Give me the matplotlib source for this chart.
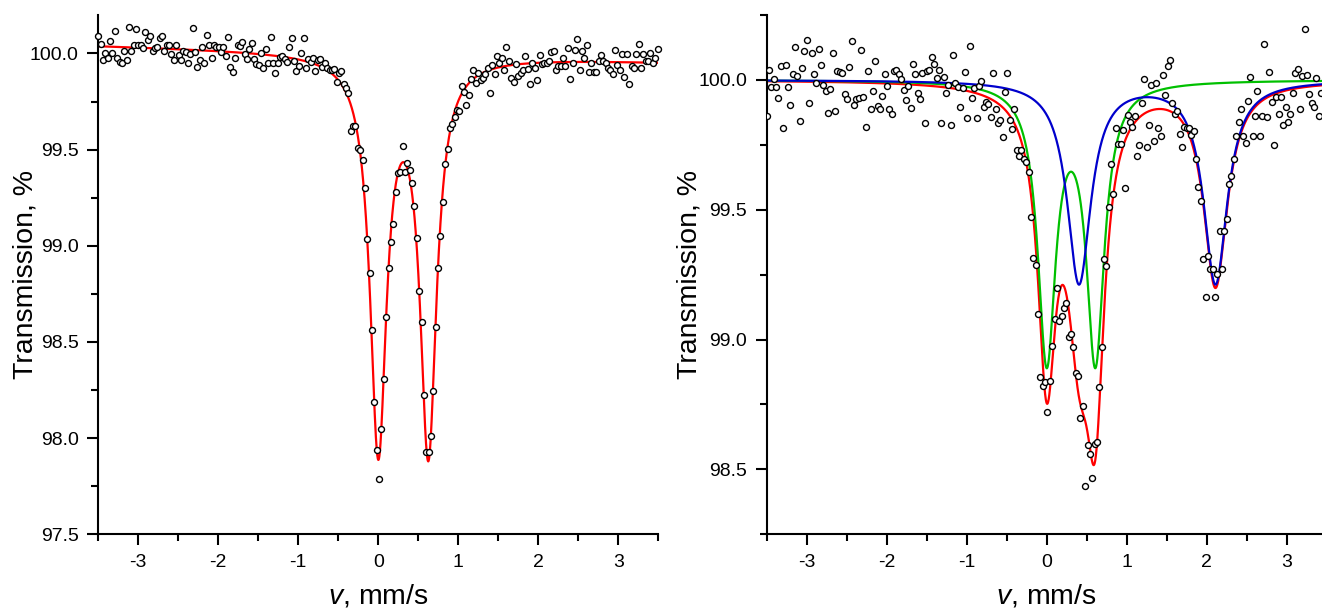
import numpy as np
import matplotlib
matplotlib.use("Agg")
import matplotlib.pyplot as plt
from matplotlib.ticker import MultipleLocator

plt.rcParams['font.family'] = ['Liberation Sans', 'DejaVu Sans']
plt.rcParams['mathtext.fontset'] = 'custom'
plt.rcParams['mathtext.it'] = 'Liberation Sans:italic'
plt.rcParams['mathtext.rm'] = 'Liberation Sans'

# ---------------- data: left spectrum (transmission, %) ----------------
v_range_left = [-3.50, 3.49]
trans_left = [
    100.090, 100.049, 99.965, 100.003, 99.977, 100.064, 100.005, 100.118, 99.977, 99.957,
    99.948, 100.014, 99.967, 100.137, 100.014, 100.045, 100.127, 100.045, 100.045, 100.026,
    100.111, 100.071, 100.090, 100.014, 100.026, 100.033, 100.082, 100.090, 100.014, 100.045,
    100.045, 99.995, 99.965, 100.045, 99.990, 99.965, 100.012, 100.007, 99.953, 99.995,
    100.130, 100.007, 99.932, 99.965, 100.035, 99.953, 100.095, 100.045, 99.974, 100.042,
    100.036, 100.035, 100.009, 100.033, 99.986, 100.088, 99.929, 99.905, 99.977, 100.045,
    100.038, 100.061, 99.995,
    99.972, 100.021, 100.057, 99.969, 99.946, 99.941, 100.000, 99.925, 100.023, 99.953,
    100.087, 99.953, 99.901, 99.953, 99.983, 99.986, 99.969, 99.955, 100.035, 100.082,
    99.962, 99.908, 99.936, 100.002, 100.078, 99.924, 99.972, 99.957, 99.974, 99.910,
    99.965, 99.971, 99.931, 99.948, 99.927, 99.913, 99.913, 99.917, 99.853, 99.896,
    99.910, 99.840, 99.820, 99.795, 99.596, 99.624, 99.622, 99.509, 99.497,
    99.445, 99.301, 99.037, 98.858, 98.564, 98.187, 97.940, 97.787, 98.049, 98.305,
    98.630, 98.885, 99.020, 99.112, 99.280, 99.381, 99.385, 99.519, 99.385, 99.428,
    99.394, 99.325, 99.207, 99.039, 98.765, 98.602, 98.226, 97.927, 97.927, 98.010,
    98.243, 98.576, 98.885, 99.049, 99.228, 99.426, 99.502, 99.610, 99.632,
    99.670, 99.705, 99.700,
    99.830, 99.799, 99.731, 99.783, 99.868, 99.913, 99.844, 99.899, 99.861, 99.870,
    99.891, 99.922, 99.797, 99.939, 99.891, 99.986, 99.948, 99.977, 99.912, 100.035,
    99.962, 99.870, 99.851, 99.944, 99.882, 99.899, 99.913, 99.986, 99.920, 99.842,
    99.948, 99.927, 99.861, 99.991, 99.944, 99.953, 99.953, 99.960, 100.007, 100.012,
    99.913, 99.936, 99.936, 99.979, 99.934, 100.031, 99.865, 99.948, 100.016, 100.075,
    99.913, 100.012, 99.974, 100.045, 99.906, 99.953, 99.906, 99.905, 99.960, 99.993,
    99.960, 99.948, 99.927, 99.913, 99.892, 100.016, 99.939, 99.913, 99.998, 99.879,
    99.998, 99.839, 99.934, 99.924, 99.998, 100.050, 99.924, 99.998, 99.962, 99.962,
    100.003, 99.953, 99.974, 100.021,
]

# left fit: one doublet on a sloping baseline
left_base = [100.0, -0.012]          # intercept, slope
left_centers = [0.0, 0.625]
left_fwhm = [0.25, 0.25]
left_depth = [2.035, 2.035]

# ---------------- data: right spectrum ----------------
v_range_right = [-3.50, 3.43]
trans_right = [
    99.860, 100.039, 99.974, 100.003, 99.972, 99.932, 100.054, 99.816, 100.057, 99.974,
    99.905, 100.023, 100.127, 100.014, 99.843, 100.044, 100.113, 100.152, 99.911, 100.105,
    100.024, 99.990, 100.118, 100.059, 99.982, 99.958, 99.874, 99.964, 100.105, 99.882,
    100.033, 100.031, 100.026, 99.945, 99.925, 100.048, 100.149, 99.904, 99.928, 99.932,
    100.117, 99.936, 99.817, 100.033, 99.888, 99.959, 100.072, 99.900, 99.888, 99.937,
    100.021, 99.976, 99.888, 99.869, 100.035, 100.040, 100.023, 100.003, 99.960, 99.923,
    99.977, 99.893, 100.060, 100.023, 99.949, 99.927, 100.028, 99.835, 100.035, 100.039,
    100.090, 100.060, 100.006, 100.040, 99.833, 100.012, 99.949, 99.982, 99.828, 100.096,
    99.990, 99.972, 99.897, 99.968, 100.032, 99.855, 100.132, 99.929, 99.967, 99.852,
    99.977, 99.995, 99.895, 99.916, 99.907,
    99.859, 100.028, 99.887, 99.833, 99.846, 99.781, 99.954, 100.028, 99.846, 99.810,
    99.888, 99.730, 99.707, 99.730, 99.695, 99.685, 99.645, 99.473, 99.315, 99.289,
    99.100, 98.855, 98.820, 98.836, 98.720, 98.840, 98.975, 99.081, 99.199, 99.072,
    99.090, 99.123, 99.139, 99.010, 99.023, 98.970, 98.871, 98.860, 98.696, 98.743,
    98.435, 98.592, 98.558, 98.467, 98.596, 98.605, 98.819, 98.973,
    99.310, 99.284, 99.512, 99.676, 99.560, 99.815, 99.753, 99.753, 99.807, 99.582,
    99.864, 99.838, 99.820, 99.862, 99.707, 99.748, 99.910, 100.005, 99.743, 99.825,
    99.979, 99.766, 99.990, 99.815, 99.784, 100.017, 99.940, 100.055, 100.077, 99.913,
    99.870, 99.880, 99.792, 99.743, 99.819, 99.815, 99.816, 99.788, 99.803, 99.695,
    99.587, 99.535, 99.310, 99.165, 99.323, 99.271, 99.270, 99.162, 99.252, 99.419,
    99.272, 99.419, 99.463, 99.600, 99.631, 99.695, 99.783, 99.839, 99.888, 99.784,
    99.758, 99.920, 100.010, 99.784, 99.860, 99.959, 99.784, 99.860, 100.139, 99.856,
    100.030, 99.915, 99.751, 99.933, 99.868, 99.933, 99.826, 99.895, 99.837, 99.868,
    99.951, 100.026, 100.042, 99.889, 100.015, 100.198, 100.019, 99.946, 99.910, 99.895,
    100.009, 99.861, 99.951,
]

# right fit components (Lorentzian doublets, baseline 100 %)
green_centers = [0.0, 0.608]
green_fwhm = 0.272
green_depth = 1.06
blue_centers = [0.404, 2.11]
blue_fwhm = 0.36
blue_depth = 0.78

xticks = [-3, -2, -1, 0, 1, 2, 3]


def lorentz(v, c, fwhm, depth):
    h2 = (fwhm / 2.0) ** 2
    return depth * h2 / ((v - c) ** 2 + h2)


W, H = 1322, 612
fig = plt.figure(figsize=(W / 100, H / 100), dpi=100)

axL = fig.add_axes([98.3 / W, 1 - 534.3 / H, 560 / W, (534.3 - 15) / H])
axR = fig.add_axes([766.7 / W, 1 - 534.3 / H, 560 / W, (534.3 - 15) / H])

vfine = np.linspace(-3.6, 3.6, 3000)

# left panel
vL = np.linspace(v_range_left[0], v_range_left[1], len(trans_left))
fitL = left_base[0] + left_base[1] * vfine
for c, w, d in zip(left_centers, left_fwhm, left_depth):
    fitL = fitL - lorentz(vfine, c, w, d)
axL.plot(vfine, fitL, color='#ff0000', lw=1.6, zorder=2)
axL.plot(vL, trans_left, 'o', ms=4.3, mfc='white', mec='black', mew=1.0,
         zorder=3, clip_on=False)
axL.set_ylim(97.5, 100.2)
axL.yaxis.set_major_locator(MultipleLocator(0.5))
axL.yaxis.set_minor_locator(MultipleLocator(0.25))

# right panel
vR = np.linspace(v_range_right[0], v_range_right[1], len(trans_right))
green = sum(lorentz(vfine, c, green_fwhm, green_depth) for c in green_centers)
blue = sum(lorentz(vfine, c, blue_fwhm, blue_depth) for c in blue_centers)
axR.plot(vfine, 100 - green - blue, color='#ff0000', lw=1.6, zorder=2)
axR.plot(vfine, 100 - green, color='#00c000', lw=1.6, zorder=2)
axR.plot(vfine, 100 - blue, color='#0000cc', lw=1.6, zorder=2)
axR.plot(vR, trans_right, 'o', ms=4.3, mfc='white', mec='black', mew=1.0,
         zorder=3)
axR.set_ylim(98.25, 100.25)
axR.yaxis.set_major_locator(MultipleLocator(0.5))
axR.yaxis.set_minor_locator(MultipleLocator(0.25))

for ax, lx in ((axL, -0.106), (axR, -0.114)):
    ax.set_xlim(-3.5, 3.5)
    ax.set_xticks(xticks)
    ax.set_xticklabels([str(t) for t in xticks])
    ax.xaxis.set_minor_locator(MultipleLocator(0.5))
    ax.yaxis.set_major_formatter(matplotlib.ticker.FormatStrFormatter('%.1f'))
    for s in ('top', 'right'):
        ax.spines[s].set_visible(False)
    for s in ('left', 'bottom'):
        ax.spines[s].set_linewidth(1.5)
    ax.tick_params(which='major', direction='out', length=8, width=1.5,
                   labelsize=14, pad=6)
    ax.tick_params(which='minor', direction='out', length=5, width=1.5)
    ax.set_ylabel('Transmission, %', fontsize=20.5)
    ax.set_xlabel(r'$\mathit{v}$, mm/s', fontsize=20.5)
    ax.yaxis.set_label_coords(lx, 0.5)
    ax.xaxis.set_label_coords(0.5, -0.092)

fig.savefig('out.png', dpi=100)
